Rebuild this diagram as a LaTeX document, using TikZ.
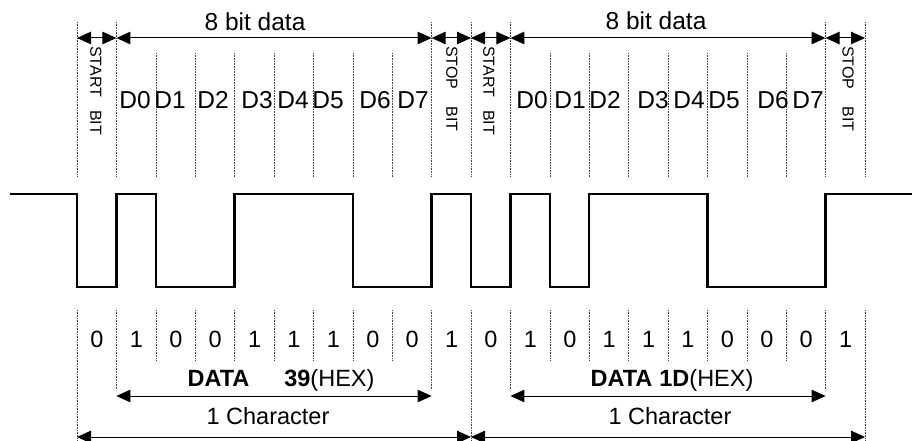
\documentclass[tikz,border=0pt]{standalone}
\usepackage{fontspec}
\setmainfont{Liberation Sans}
\usetikzlibrary{arrows.meta}

\begin{document}
\begin{tikzpicture}[x=1pt,y=-1pt,font=\fontsize{24.5}{28}\selectfont,
  dotline/.style={black!75,line width=0.6pt,densely dotted},
  dim/.style={line width=1pt,>={Triangle[length=14pt,width=12.5pt]},<->},
  wave/.style={line width=2.3pt},
  vlab/.style={rotate=-90,anchor=west,inner sep=0pt,font=\fontsize{16}{19}\selectfont},
  small/.style={font=\fontsize{23.5}{27}\selectfont}]
  \useasboundingbox (0,0) rectangle (912,441);
  \foreach \i in {0,...,20}{
    \pgfmathsetmacro\xx{77+39.4*\i}
    \coordinate (a\i) at (\xx,38);
    \coordinate (m\i) at (\xx,396);
    \coordinate (c\i) at (\xx,437);
  }
  % dotted bit borders
  \foreach \i in {0,1,9,10,11,19,20} \draw[dotline] (a\i |- 0,22) -- (a\i |- 0,177);
  \foreach \i in {2,...,8,12,13,...,18} \draw[dotline] (a\i |- 0,53) -- (a\i |- 0,177);
  \foreach \i in {0,10,20} \draw[dotline] (a\i |- 0,310) -- (a\i |- 0,441);
  \foreach \i in {1,9,11,19} \draw[dotline] (a\i |- 0,310) -- (a\i |- 0,390);
  \foreach \i in {2,...,8,12,13,...,18} \draw[dotline] (a\i |- 0,310) -- (a\i |- 0,360);
  % top arrows
  \draw[dim] (a0) -- (a1);
  \draw[dim] (a1) -- (a9);
  \draw[dim] (a9) -- (a10);
  \draw[dim] (a10) -- (a11);
  \draw[dim] (a11) -- (a19);
  \draw[dim] (a19) -- (a20);
  \node (data1) at (255,22) {8 bit data};
  \node (data2) at (656,21) {8 bit data};
  \node[vlab] (start1) at (96,46) {START\hspace{13pt}BIT};
  \node[vlab] (stop1) at (452,46) {STOP\hspace{17pt}BIT};
  \node[vlab] (start2) at (489,46) {START\hspace{13pt}BIT};
  \node[vlab] (stop2) at (848,46) {STOP\hspace{17pt}BIT};
  \foreach \x [count=\n from 0] in {135,170,213,257,293,328,375,413}
    \node (da\n) at (\x,100) {D\n};
  \foreach \x [count=\n from 0] in {532,570,605,653,689,724,773,808}
    \node (db\n) at (\x,100) {D\n};
  % signal
  \draw[wave] (10,194) -| (77,287) -| (116.4,194) -| (155.8,287) -| (234.6,194)
    -| (352.8,287) -| (431.6,194) -| (471,287) -| (510.4,194) -| (549.8,287)
    -| (589.2,194) -| (707.4,287) -| (825.6,194) -- (912,194);
  % bit values
  \foreach \b [count=\i from 0] in {0,1,0,0,1,1,1,0,0,1,0,1,0,1,1,1,0,0,0,1}
    \node[small] (bit\i) at (97+39.4*\i,339) {\b};
  \node[small] (hex1) at (281,380) {\textbf{DATA}\hspace{35pt}\textbf{39}(HEX)};
  \node[small] (hex2) at (672,380) {\textbf{DATA}\hspace{7pt}\textbf{1D}(HEX)};
  \draw[dim] (m1) -- (m9);
  \draw[dim] (m11) -- (m19);
  \node[small] (char1) at (268,416) {1 Character};
  \node[small] (char2) at (670,416) {1 Character};
  \draw[dim] (c0) -- (c10);
  \draw[dim] (c10) -- (c20);
\end{tikzpicture}
\end{document}
